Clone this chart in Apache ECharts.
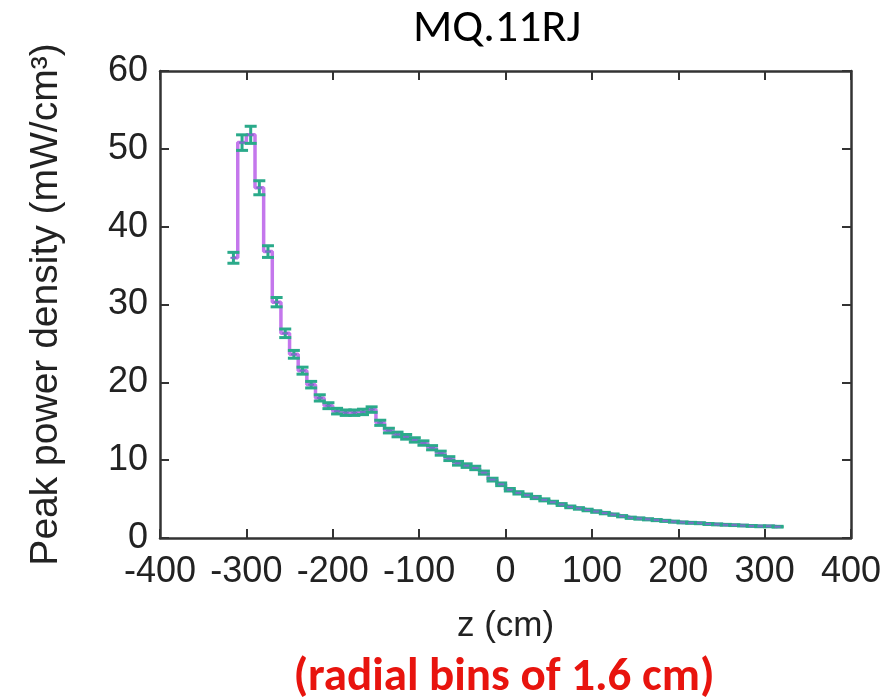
<!DOCTYPE html>
<html>
<head>
<meta charset="utf-8">
<script src="https://cdn.jsdelivr.net/npm/echarts@6/dist/echarts.min.js"></script>
<style>
html,body{margin:0;padding:0;background:#fff;}
#chart{width:894px;height:697px;}
</style>
</head>
<body>
<div id="chart"></div>
<script>
// Bin centers (cm), 10 cm bins
const zCenters = [-315,-305,-295,-285,-275,-265,-255,-245,-235,-225,-215,-205,-195,-185,-175,-165,-155,-145,-135,-125,-115,-105,-95,-85,-75,-65,-55,-45,-35,-25,-15,-5,5,15,25,35,45,55,65,75,85,95,105,115,125,135,145,155,165,175,185,195,205,215,225,235,245,255,265,275,285,295,305,315];
// Peak power density (mW/cm^3)
const density = [36.0,50.8,51.8,45.0,36.8,30.3,26.3,23.6,21.5,19.7,18.0,17.0,16.3,16.1,16.1,16.2,16.5,14.8,13.8,13.3,13.0,12.6,12.2,11.6,10.9,10.2,9.6,9.3,9.0,8.4,7.5,6.9,6.2,5.8,5.5,5.2,4.9,4.6,4.3,4.0,3.8,3.6,3.4,3.2,3.0,2.8,2.6,2.5,2.4,2.3,2.2,2.1,2.0,1.95,1.9,1.8,1.75,1.7,1.65,1.6,1.55,1.5,1.5,1.45];
// Error (+/-) estimates
const errors = [0.7,1.0,1.1,0.9,0.75,0.6,0.55,0.5,0.45,0.42,0.4,0.38,0.36,0.35,0.35,0.35,0.35,0.33,0.3,0.3,0.3,0.28,0.28,0.27,0.26,0.25,0.24,0.23,0.22,0.2,0.18,0.17,0.16,0.15,0.15,0.14,0.13,0.12,0.12,0.11,0.1,0.1,0.1,0.09,0.09,0.08,0.08,0.08,0.07,0.07,0.07,0.07,0.06,0.06,0.06,0.06,0.06,0.05,0.05,0.05,0.05,0.05,0.05,0.05];
const xTicks = [-400,-300,-200,-100,0,100,200,300,400];
const yTicks = [0,10,20,30,40,50,60];

const titleText = 'MQ.11RJ';
const subText = '(radial bins of 1.6 cm)';
const xName = 'z (cm)';
const yName = 'Peak power density (mW/cm\u00B3)';

const lineData = zCenters.map((z,i)=>[z, density[i]]);
const errData = zCenters.map((z,i)=>[z, density[i], errors[i]]);

const axisColor = '#333';
const font = 'Liberation Sans, Arial, sans-serif';

const chart = echarts.init(document.getElementById('chart'), null, {renderer:'canvas'});
chart.setOption({
  animation:false,
  backgroundColor:'#fff',
  grid:{left:160,right:43,top:71,bottom:159,containLabel:false},
  xAxis:[{
    type:'value', min:xTicks[0], max:xTicks[xTicks.length-1], interval:100,
    name:xName, nameLocation:'middle', nameGap:71,
    nameTextStyle:{fontFamily:font,fontSize:35,color:'#222'},
    axisLine:{show:true,onZero:false,lineStyle:{color:axisColor,width:2.5}},
    axisTick:{show:true,inside:true,length:9,lineStyle:{color:axisColor,width:2}},
    axisLabel:{fontFamily:font,fontSize:36,color:'#222',margin:16},
    splitLine:{show:false}
  },{
    type:'value', position:'top', min:xTicks[0], max:xTicks[xTicks.length-1], interval:100,
    axisLine:{show:true,onZero:false,lineStyle:{color:axisColor,width:2.5}},
    axisTick:{show:true,inside:true,length:9,lineStyle:{color:axisColor,width:2}},
    axisLabel:{show:false}, splitLine:{show:false}
  }],
  yAxis:[{
    type:'value', min:yTicks[0], max:yTicks[yTicks.length-1], interval:10,
    name:yName, nameLocation:'middle', nameGap:94, nameRotate:90,
    nameTextStyle:{fontFamily:font,fontSize:39,color:'#222'},
    axisLine:{show:true,onZero:false,lineStyle:{color:axisColor,width:2.5}},
    axisTick:{show:true,inside:true,length:9,lineStyle:{color:axisColor,width:2}},
    axisLabel:{fontFamily:font,fontSize:36,color:'#222',margin:12},
    splitLine:{show:false}
  },{
    type:'value', position:'right', min:yTicks[0], max:yTicks[yTicks.length-1], interval:10,
    axisLine:{show:true,onZero:false,lineStyle:{color:axisColor,width:2.5}},
    axisTick:{show:true,inside:true,length:9,lineStyle:{color:axisColor,width:2}},
    axisLabel:{show:false}, splitLine:{show:false}
  }],
  series:[{
    type:'line', step:'middle', data:lineData, showSymbol:false, symbol:'none',
    lineStyle:{color:'#c477ec',width:3.5}, z:2
  },{
    type:'custom', data:errData, z:3,
    renderItem:function(params, api){
      const x = api.value(0), y = api.value(1), e = api.value(2);
      const top = api.coord([x, y+e]);
      const bot = api.coord([x, y-e]);
      const c = api.coord([x, y]);
      const hw = 6;
      const st = {stroke:'#2aaa8a', lineWidth:3};
      return {type:'group', children:[
        {type:'line', shape:{x1:top[0],y1:top[1],x2:bot[0],y2:bot[1]}, style:st},
        {type:'line', shape:{x1:top[0]-hw,y1:top[1],x2:top[0]+hw,y2:top[1]}, style:st},
        {type:'line', shape:{x1:bot[0]-hw,y1:bot[1],x2:bot[0]+hw,y2:bot[1]}, style:st},
        {type:'line', shape:{x1:c[0]-3,y1:c[1],x2:c[0]+3,y2:c[1]}, style:{stroke:'#7a6fc8',lineWidth:2}}
      ]};
    }
  }],
  graphic:[
    {type:'text', x:497, y:6, style:{text:titleText, fontFamily:'Carlito, Open Sans, Liberation Sans, sans-serif', fontSize:46, fill:'#000', textAlign:'center'}},
    {type:'text', x:504, y:655, style:{text:subText, fontFamily:'Carlito, Liberation Sans, sans-serif', fontWeight:'bold', fontSize:47, fill:'#e8140e', textAlign:'center'}}
  ]
});
</script>
</body>
</html>
